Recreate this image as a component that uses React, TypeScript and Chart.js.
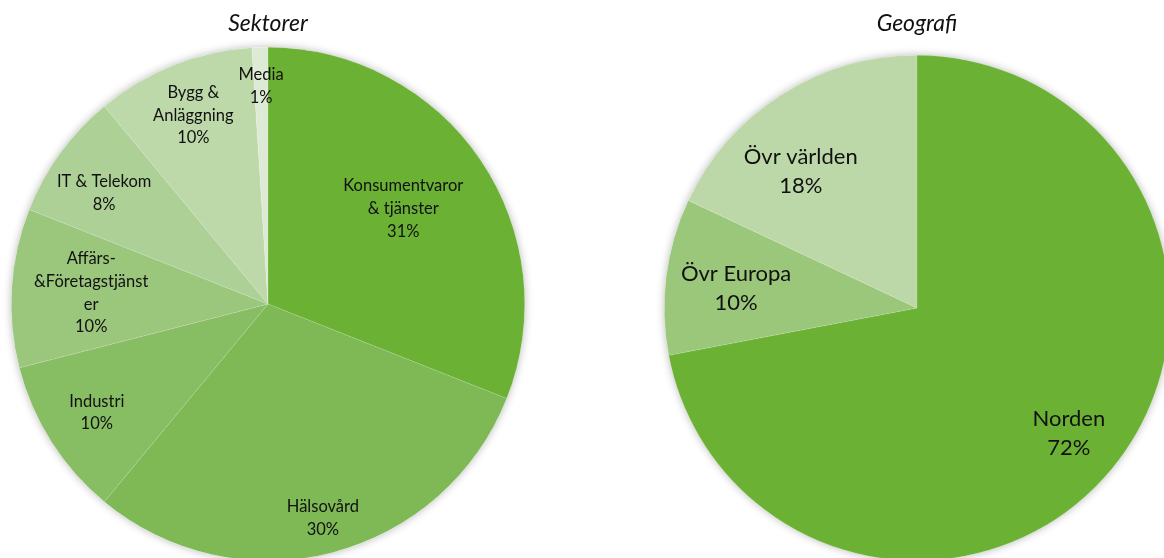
import React, { useEffect, useRef } from "react";
import { Chart, registerables } from "chart.js";

Chart.register(...registerables);

// ---- data ----
const sectorCategories: string[][] = [
  ["Konsumentvaror", "& tjänster"],
  ["Hälsovård"],
  ["Industri"],
  ["Affärs-", "&Företagstjänst", "er"],
  ["IT & Telekom"],
  ["Bygg &", "Anläggning"],
  ["Media"],
];
const sectorValues: number[] = [31, 30, 10, 10, 8, 10, 1];
const sectorColors: string[] = ["#6BB134", "#7EB955", "#88BE63", "#9BC77C", "#ADD096", "#BDD9A9", "#DDEAD5"];

const geoCategories: string[][] = [["Norden"], ["Övr Europa"], ["Övr världen"]];
const geoValues: number[] = [72, 10, 18];
const geoColors: string[] = ["#6BB134", "#9BC77A", "#BDD8A8"];

// label placement (fraction of radius, angle shift in degrees)
const sectorLabelRadius: number[] = [0.645, 0.86, 0.79, 0.69, 0.77, 0.79, 0.85];
const sectorLabelShift: number[] = [-1, 0, 0, 0, -2, 0, 0];
const geoLabelRadius: number[] = [0.78, 0.72, 0.71];
const geoLabelShift: number[] = [0, -1, -8];

const FONT = "Lato, 'Open Sans', sans-serif";

const shadowPlugin = {
  id: "pieShadow",
  beforeDatasetsDraw(chart: any) {
    const meta = chart.getDatasetMeta(0);
    const arc = meta.data[0];
    if (!arc) return;
    const { x, y, outerRadius } = arc.getProps(["x", "y", "outerRadius"], true);
    const ctx = chart.ctx;
    ctx.save();
    ctx.shadowColor = "rgba(0,0,0,0.28)";
    ctx.shadowBlur = 9;
    ctx.shadowOffsetX = 0;
    ctx.shadowOffsetY = 0;
    ctx.fillStyle = "#ffffff";
    ctx.beginPath();
    ctx.arc(x, y, outerRadius, 0, Math.PI * 2);
    ctx.fill();
    ctx.restore();
  },
};

const labelPlugin = {
  id: "sliceLabels",
  afterDatasetsDraw(chart: any, _args: any, opts: any) {
    const meta = chart.getDatasetMeta(0);
    const ds = chart.data.datasets[0];
    const ctx = chart.ctx;
    ctx.save();
    ctx.fillStyle = "#111111";
    ctx.font = `${opts.size}px ${FONT}`;
    ctx.textAlign = "center";
    ctx.textBaseline = "middle";
    meta.data.forEach((arc: any, i: number) => {
      const p = arc.getProps(["x", "y", "startAngle", "endAngle", "outerRadius"], true);
      const mid = (p.startAngle + p.endAngle) / 2 + ((opts.shift[i] || 0) * Math.PI) / 180;
      const r = p.outerRadius * opts.radius[i];
      const cx = p.x + Math.cos(mid) * r;
      const cy = p.y + Math.sin(mid) * r;
      const lbl = chart.data.labels[i];
      const lines: string[] = [...(Array.isArray(lbl) ? lbl : [lbl]), `${ds.data[i]}%`];
      const lh = opts.lineHeight;
      const top = cy - ((lines.length - 1) * lh) / 2;
      lines.forEach((t, k) => ctx.fillText(t, cx, top + k * lh));
    });
    ctx.restore();
  },
};

function makeConfig(
  labels: string[][],
  values: number[],
  colors: string[],
  title: string,
  padding: any,
  titlePad: any,
  labelOpts: any
): any {
  return {
    type: "pie",
    data: {
      labels,
      datasets: [
        {
          data: values,
          backgroundColor: colors,
          borderColor: "rgba(255,255,255,0.18)",
          borderWidth: 0.6,
        },
      ],
    },
    options: {
      responsive: false,
      animation: false,
      layout: { padding },
      plugins: {
        legend: { display: false },
        tooltip: { enabled: false },
        title: {
          display: true,
          text: title,
          color: "#111111",
          font: { family: FONT, size: 23, style: "italic", weight: "normal", lineHeight: 1.2 },
          padding: titlePad,
        },
        sliceLabels: labelOpts,
      },
    },
    plugins: [shadowPlugin, labelPlugin],
  };
}

export default function App() {
  const leftRef = useRef<HTMLCanvasElement | null>(null);
  const rightRef = useRef<HTMLCanvasElement | null>(null);

  useEffect(() => {
    document.body.style.margin = "0";
    const left = new Chart(
      leftRef.current as HTMLCanvasElement,
      makeConfig(
        sectorCategories,
        sectorValues,
        sectorColors,
        "Sektorer",
        { left: 11, right: 11, top: 0, bottom: 59 },
        { top: 10, bottom: 9.4 },
        { size: 16.5, lineHeight: 22.7, radius: sectorLabelRadius, shift: sectorLabelShift }
      )
    );
    const right = new Chart(
      rightRef.current as HTMLCanvasElement,
      makeConfig(
        geoCategories,
        geoValues,
        geoColors,
        "Geografi",
        { left: 64, right: 70, top: 0, bottom: 59 },
        { top: 10, bottom: 17.4 },
        { size: 22, lineHeight: 29, radius: geoLabelRadius, shift: geoLabelShift }
      )
    );
    return () => {
      left.destroy();
      right.destroy();
    };
  }, []);

  return (
    <div
      style={{
        position: "fixed",
        left: 0,
        top: 0,
        width: 1164,
        height: 558,
        overflow: "hidden",
        background: "#ffffff",
      }}
    >
      <canvas
        ref={leftRef}
        width={536}
        height={620}
        style={{ position: "absolute", left: 0, top: 0, width: 536, height: 620 }}
      />
      <canvas
        ref={rightRef}
        width={640}
        height={620}
        style={{ position: "absolute", left: 600, top: 0, width: 640, height: 620 }}
      />
    </div>
  );
}
